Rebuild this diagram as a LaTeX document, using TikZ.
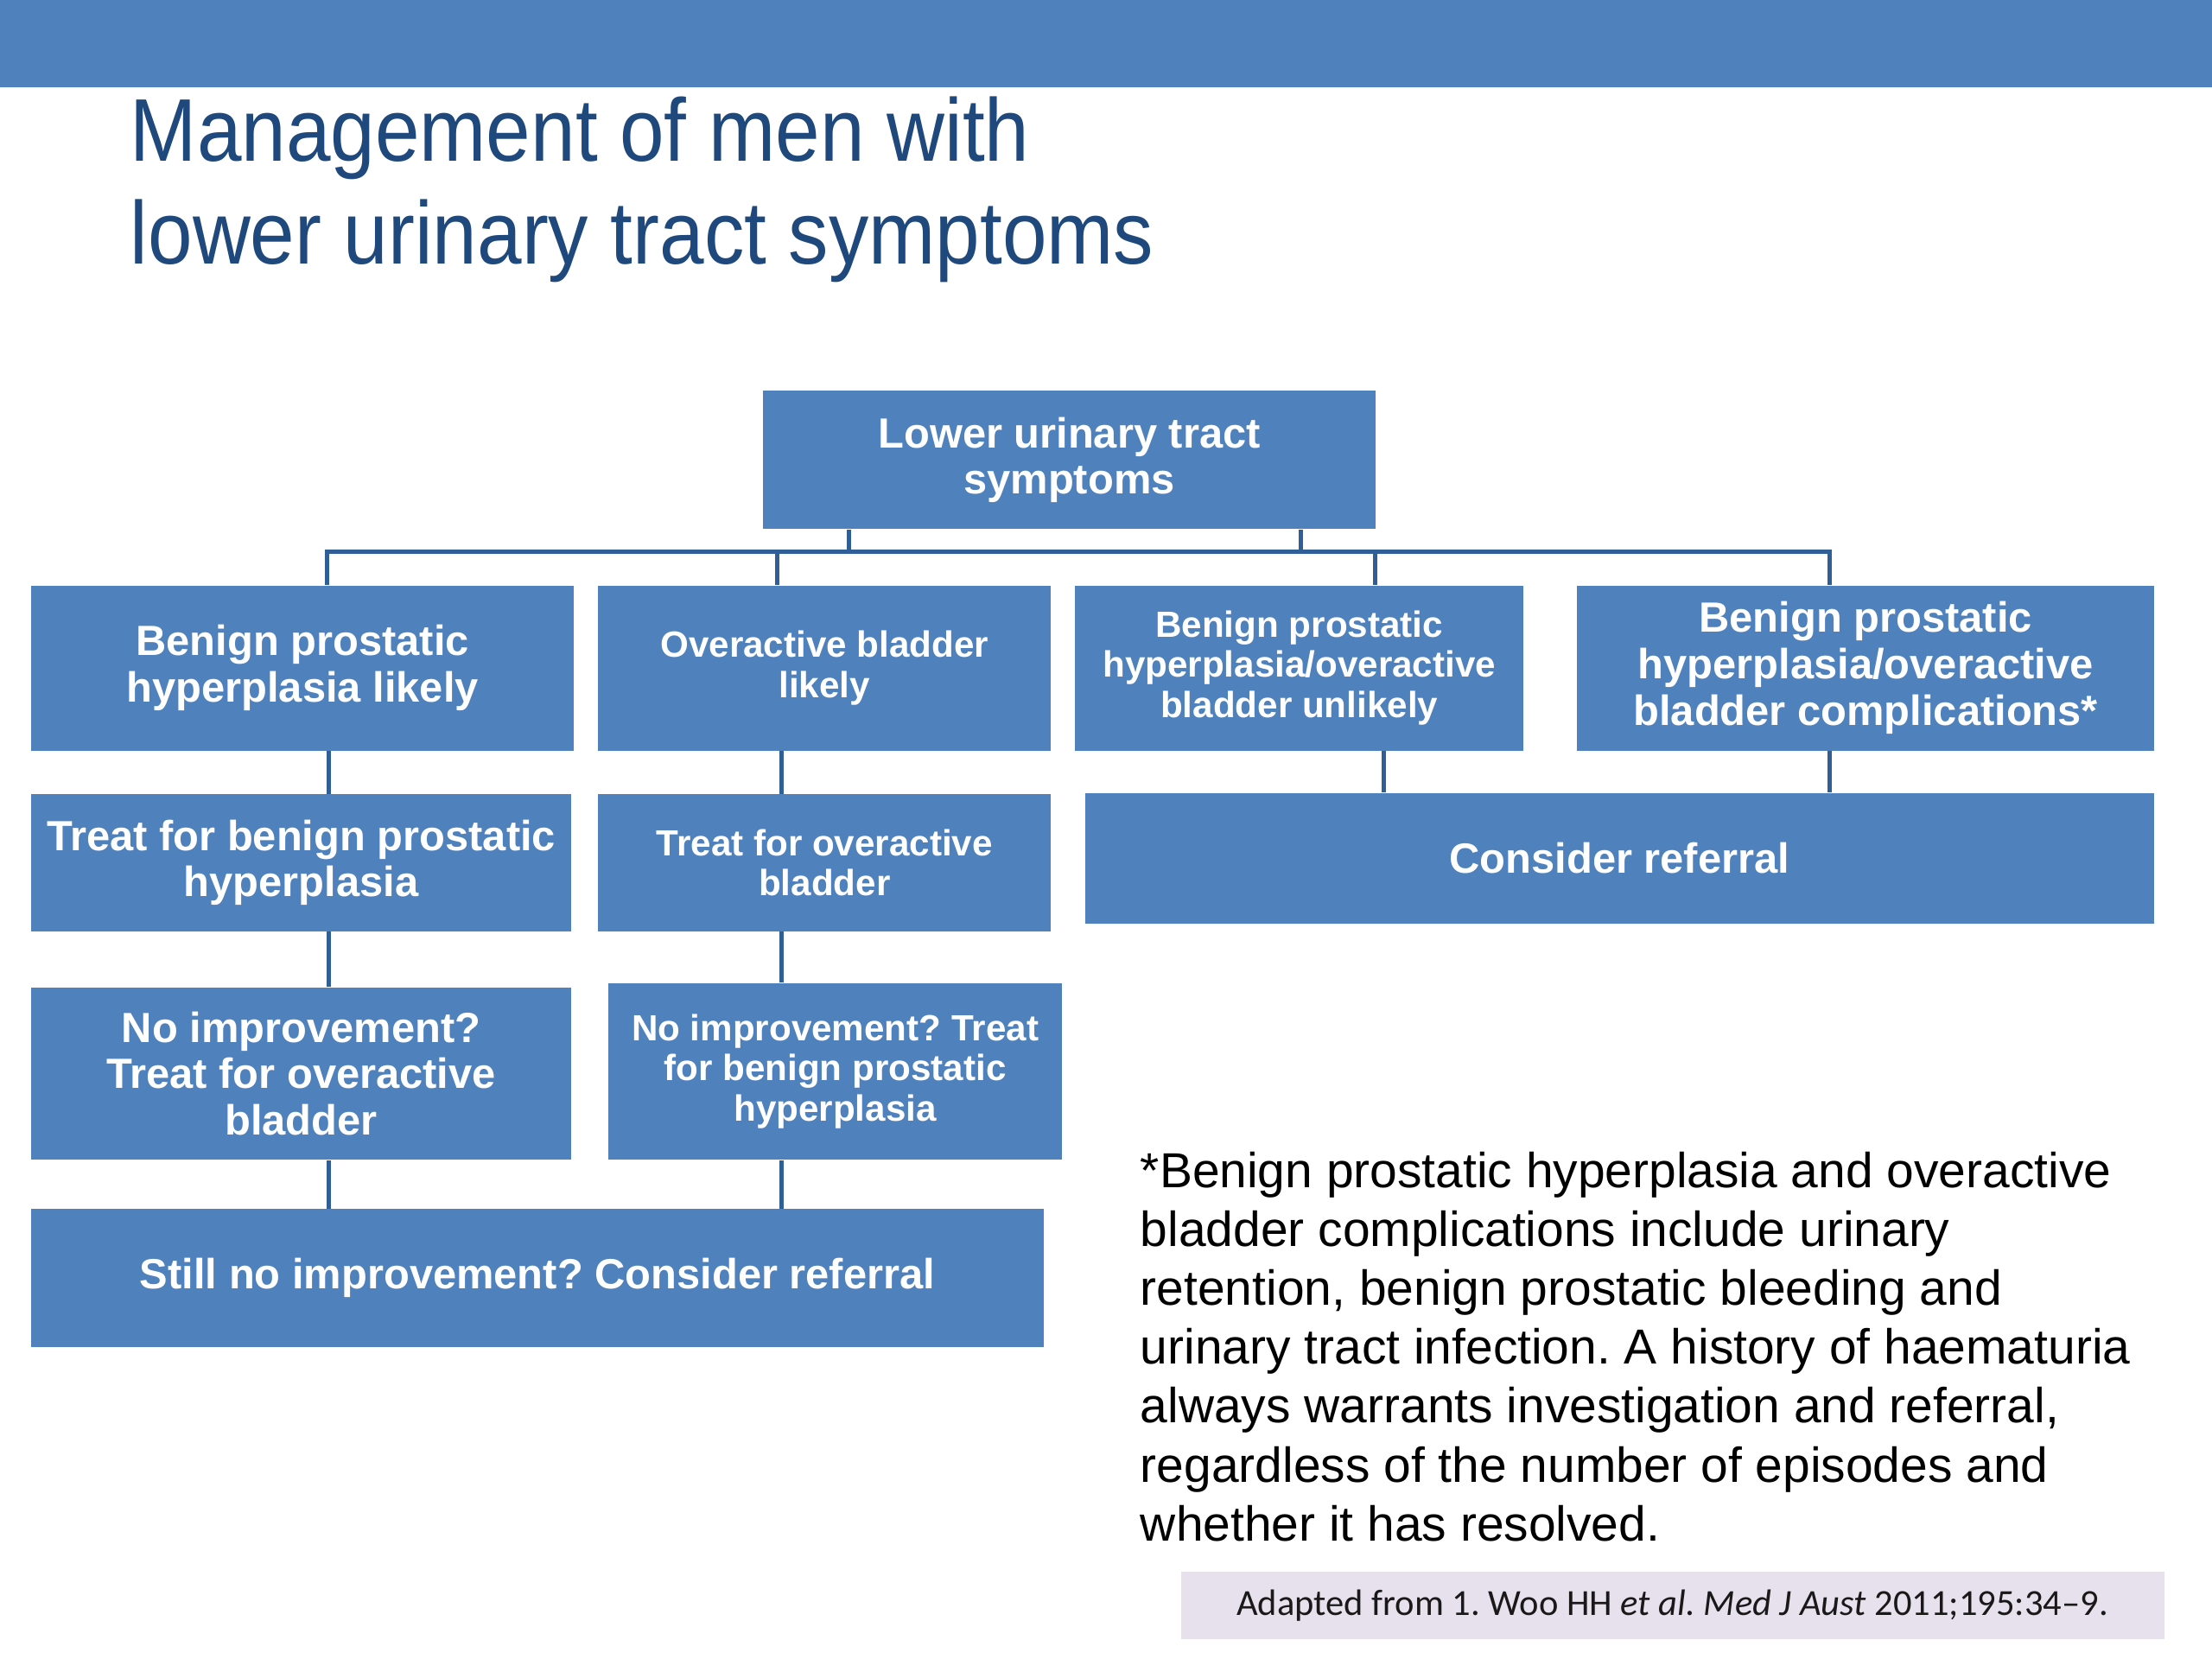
\documentclass[tikz,border=0pt]{standalone}
\usepackage{fontspec}
\setmainfont{Liberation Sans}
\newfontfamily\titlefont[FakeStretch=0.9]{Liberation Sans}
\newfontfamily\citefont{Carlito}
\frenchspacing
\definecolor{boxblue}{HTML}{4F81BD}
\definecolor{linkblue}{HTML}{2F5F96}
\definecolor{titleblue}{HTML}{1F497D}
\definecolor{citebg}{HTML}{E6E1EC}
\def\pxu{0.016327cm}
\newcommand\flowbox[7]{%
  \node[#6,minimum width={(#4-#2)*\pxu},minimum height={(#5-#3)*\pxu}] (#1) at ({(#2+#4)/2},{(#3+#5)/2}) {#7};}
\tikzset{
  box/.style={fill=boxblue,draw=none,inner sep=0pt,align=center,text=white},
  bigtxt/.style={box,font=\fontsize{13.9}{15.3}\selectfont\bfseries},
  smalltxt/.style={box,font=\fontsize{12.0}{13.2}\selectfont\bfseries},
  link/.style={draw=linkblue,line width=1.4pt},
}
\begin{document}
\begin{tikzpicture}[x=0.016327cm,y=-0.016327cm]
\useasboundingbox (0,0) rectangle (1568,1176);
% header bar
\flowbox{header}{0}{0}{1568}{62}{box}{}
% title
\node[anchor=north west,inner sep=0pt,align=left,text=titleblue,
      font=\titlefont\fontsize{29.3}{33.9}\selectfont] (title) at (92,68)
  {Management of men with\\lower urinary tract symptoms};
% boxes
\flowbox{root}{541}{277}{975}{375}{bigtxt}{Lower urinary tract\\symptoms}
\flowbox{A1}{22}{415}{407}{532}{bigtxt}{Benign prostatic\\hyperplasia likely}
\flowbox{B1}{424}{415}{745}{532}{smalltxt}{Overactive bladder\\likely}
\flowbox{C1}{762}{415}{1080}{532}{smalltxt}{Benign prostatic\\hyperplasia/overactive\\bladder unlikely}
\flowbox{D1}{1118}{415}{1527}{532}{bigtxt}{Benign prostatic\\hyperplasia/overactive\\bladder complications*}
\flowbox{A2}{22}{563}{405}{660}{bigtxt}{Treat for benign prostatic\\hyperplasia}
\flowbox{B2}{424}{563}{745}{660}{smalltxt}{Treat for overactive\\bladder}
\flowbox{R2}{769}{562}{1527}{655}{bigtxt}{Consider referral}
\flowbox{A3}{22}{700}{405}{822}{bigtxt}{No improvement?\\Treat for overactive\\bladder}
\flowbox{B3}{431}{697}{753}{822}{smalltxt}{No improvement? Treat\\for benign prostatic\\hyperplasia}
\flowbox{E}{22}{857}{740}{955}{bigtxt}{Still no improvement? Consider referral}
% connectors
\coordinate (barL) at (232,391);
\coordinate (barR) at (1297,391);
\coordinate (jB) at (551,391);
\coordinate (jC) at (975,391);
\coordinate (r1) at (602,391);
\coordinate (r2) at (922,391);
\draw[link] (A1.north -| barL) -- (barL) -- (barR) -- (D1.north -| barR);
\draw[link] (root.south -| r1) -- (r1);
\draw[link] (root.south -| r2) -- (r2);
\draw[link] (jB) -- (B1.north -| jB);
\draw[link] (jC) -- (C1.north -| jC);
\coordinate (xA) at (233,0);
\coordinate (xB) at (554,0);
\coordinate (xC) at (981,0);
\coordinate (xD) at (1297,0);
\draw[link] (A1.south -| xA) -- (A2.north -| xA);
\draw[link] (A2.south -| xA) -- (A3.north -| xA);
\draw[link] (A3.south -| xA) -- (E.north -| xA);
\draw[link] (B1.south -| xB) -- (B2.north -| xB);
\draw[link] (B2.south -| xB) -- (B3.north -| xB);
\draw[link] (B3.south -| xB) -- (E.north -| xB);
\draw[link] (C1.south -| xC) -- (R2.north -| xC);
\draw[link] (D1.south -| xD) -- (R2.north -| xD);
% footnote
\node[anchor=north west,inner sep=0pt,align=left,text=black,
      font=\fontsize{16.2}{19.4}\selectfont] (note) at (808,816)
  {*Benign prostatic hyperplasia and overactive\\
   bladder complications include urinary\\
   retention, benign prostatic bleeding and\\
   urinary tract infection. A history of haematuria\\
   always warrants investigation and referral,\\
   regardless of the number of episodes and\\
   whether it has resolved.};
% citation
\flowbox{cite}{837}{1114}{1534}{1162}{fill=citebg,inner sep=0pt,text=black!90,font=\citefont\fontsize{12.1}{14}\selectfont}{Adapted from 1. Woo HH \textit{et al. Med J Aust} 2011;195:34–9.}
\end{tikzpicture}
\end{document}
